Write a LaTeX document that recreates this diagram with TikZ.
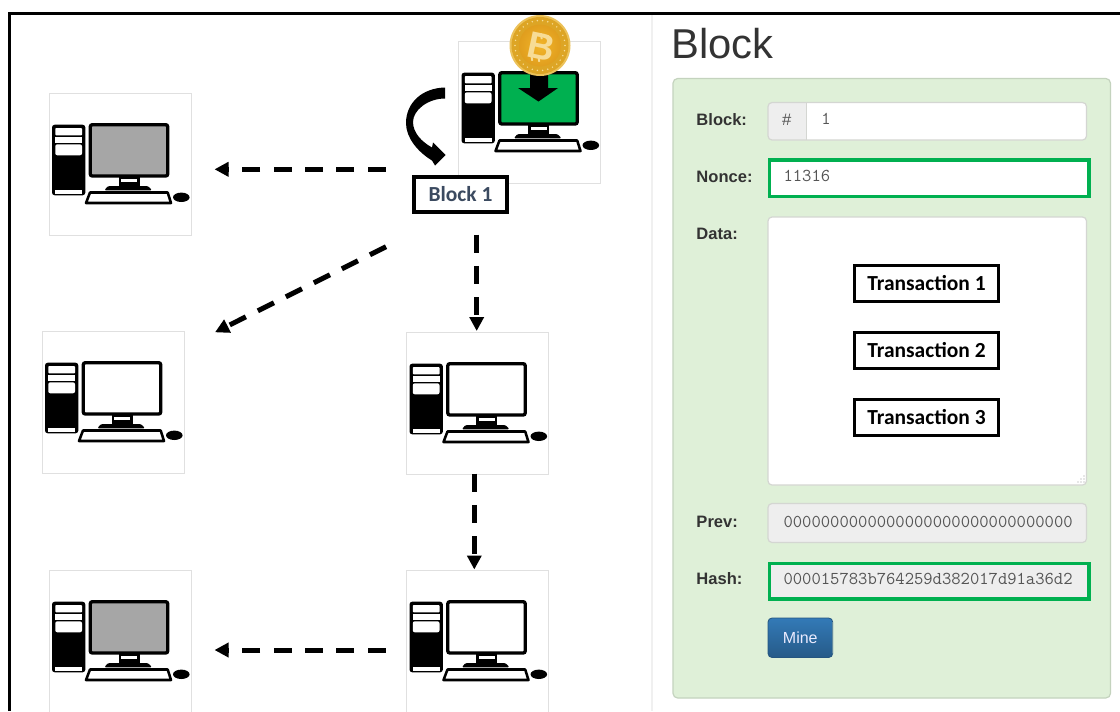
\documentclass[tikz,border=0pt]{standalone}
\usepackage{fontspec}
\setmainfont{Liberation Sans}
\newfontfamily\calib{Carlito}
\usetikzlibrary{arrows.meta,calc}
\definecolor{okgreen}{HTML}{00B050}
\definecolor{panelgreen}{HTML}{DFF0D8}
\definecolor{inputgrey}{HTML}{EEEEEE}
\definecolor{inputline}{HTML}{D4D6D2}
\definecolor{ink}{HTML}{333333}
\definecolor{slate}{HTML}{3B4A60}
\definecolor{monoink}{HTML}{555555}
\definecolor{screengrey}{HTML}{A6A6A6}
\definecolor{btntop}{HTML}{337AB7}
\definecolor{btnbot}{HTML}{265A88}
\definecolor{btnline}{HTML}{245580}
\definecolor{goldrim}{HTML}{DDA525}
\definecolor{goldedge}{HTML}{ECC25A}
\definecolor{golddisc}{HTML}{F2B52A}
\definecolor{golddark}{HTML}{E09E1E}
\definecolor{goldpale}{HTML}{F7DC96}
\tikzset{
  pcframe/.style={draw=black!12,line width=.6pt,fill=white,minimum width=106.5pt,minimum height=106.5pt,inner sep=0pt,outer sep=0pt},
  dasharrow/.style={line width=3.75pt,dash pattern=on 13.5pt off 10pt,-{Triangle[length=10.5pt,width=10.5pt]}},
  txbox/.style={draw=black,line width=2.8pt,fill=white,inner sep=0pt,outer sep=0pt,minimum width=108pt,minimum height=27pt,font=\calib\bfseries\fontsize{16.1}{18}\selectfont,text=black},
  blockbox/.style={draw=black,line width=2.6pt,fill=white,inner sep=0pt,outer sep=0pt,minimum width=70pt,minimum height=26pt,font=\calib\bfseries\fontsize{16.1}{18}\selectfont,text=slate},
  fieldlabel/.style={anchor=base west,inner sep=0pt,font=\bfseries\fontsize{12.4}{15}\selectfont,text=ink},
  monotext/.style={anchor=base west,inner sep=0pt,font=\ttfamily\fontsize{13.58}{15}\selectfont,text=monoink},
  field/.style={draw=inputline,line width=.9pt,rounded corners=3pt},
  greenfield/.style={draw=okgreen,line width=2.7pt},
}
% #1 name, #2 left, #3 top, #4 screen colour
\newcommand{\pcunit}[4]{%
  \node[pcframe] (#1) at (#2+71,#3+71) {};
  \begin{scope}[shift={(#2,#3)}]
    \fill[black,rounded corners=2pt] (3,31.7) rectangle (36.3,102.3);
    \fill[white,rounded corners=.6pt] (6.3,35) rectangle (33,42.3);
    \fill[white] (6.3,44) rectangle (33,49.7);
    \fill[white,rounded corners=1.5pt] (6.3,51.3) rectangle (33,62.3);
    \fill[white] (6.3,97.3) rectangle (33,100.7);
    \draw[black,line width=2.5pt,fill=#4,rounded corners=1.5pt] (41.3,31.7) rectangle (118.7,83);
    \fill[black] (69.7,83) rectangle (90.7,94);
    \fill[white] (72,85.7) rectangle (88,89);
    \fill[black,rounded corners=1pt] (55.3,97.3) -- (59,93) -- (99,93) -- (103,97.3) -- cycle;
    \draw[black,line width=1.9pt,fill=white,line join=round] (41,99.5) -- (118.7,99.5) -- (122,110) -- (37,110) -- cycle;
    \fill[black] (132.3,104.3) ellipse (8.3 and 4.7);
  \end{scope}}
\begin{document}
\begin{tikzpicture}[x=.75pt,y=-.75pt]
\useasboundingbox (0,0) rectangle (1120,711);
\clip (0,0) rectangle (1120,711);
\fill[white] (0,0) rectangle (1120,711);
% frame
\draw[black!6,line width=.8pt] (652,14) -- (652,711);
\draw[black,line width=2.3pt] (9.5,711) -- (9.5,13.5) -- (1120,13.5);
% computers
\pcunit{pcA}{49}{93}{screengrey}
\pcunit{pcB}{42}{331}{white}
\pcunit{pcC}{406.5}{332}{white}
\pcunit{pcD}{49}{570}{screengrey}
\pcunit{pcE}{406.5}{570}{white}
\pcunit{pcM}{458.5}{41}{okgreen}
% download arrow on the screen
\fill[black] (530,72) -- (548,72) -- (548,88) -- (558,88) -- (538.5,101.5) -- (518,88) -- (530,88) -- cycle;
% coin
\fill[goldedge] (540,45.5) circle (30.5);
\fill[goldrim] (540,45.5) circle (28.5);
\foreach \a in {0,12,...,348}{\fill[goldpale] ($(540,45.5)+(\a:25)$) circle (.8);}
\shade[inner color=golddisc,outer color=golddark] (540,45.5) circle (21);
\node[inner sep=0pt,rotate=-12,font=\bfseries\fontsize{28}{30}\selectfont,text=goldpale] (coinB) at (541,47) {B};
\draw[goldpale,line width=1.4pt] ($(coinB.north)+(-3,-1)$) -- ++(1,6) ($(coinB.north)+(4,1)$) -- ++(1,6) ($(coinB.south)+(-7,-5)$) -- ++(1,6) ($(coinB.south)+(0,-4)$) -- ++(1,6);
% curved arrow
\fill[black] (445,87.5) .. controls (422,88) and (406,103) .. (406,123) .. controls (406,138) and (418,152) .. (432,160.5) -- (435,165.5) -- (445.5,155) -- (433,142.5) -- (432,147.5) .. controls (422,142) and (413,133) .. (413,122) .. controls (413,110) and (428,98.5) .. (445,98.5) -- cycle;
% block 1
\node[blockbox] (block1) at (460.5,194.5) {Block 1};
% connector ends
\coordinate (s1) at (385.5,169.3);
\coordinate (e1) at (214.5,169.3);
\coordinate (s2) at (386,246.7);
\coordinate (e2) at (215,332.3);
\coordinate (s3) at (476.7,234.5);
\coordinate (e3) at (476.7,331);
\coordinate (s4) at (474.3,473.5);
\coordinate (e4) at (474.3,569.5);
\coordinate (s5) at (385.5,650);
\coordinate (e5) at (214.5,650);
\draw[dasharrow] (s1) -- (e1);
\draw[dasharrow] (s2) -- (e2);
\draw[dasharrow] (s3) -- (e3);
\draw[dasharrow] (s4) -- (e4);
\draw[dasharrow] (s5) -- (e5);
% right panel
\node[anchor=base west,inner sep=0pt,font=\fontsize{31.3}{36}\selectfont,text=ink] (title) at (671,58) {Block};
\fill[panelgreen,draw=black!12!panelgreen,line width=.9pt,rounded corners=3.5pt] (673,78.5) rectangle (1110.5,698);
\node[fieldlabel] (lblBlock) at (696.2,125) {Block:};
\node[fieldlabel] (lblNonce) at (696.2,182.5) {Nonce:};
\node[fieldlabel] (lblData) at (696.2,239.5) {Data:};
\node[fieldlabel] (lblPrev) at (696.2,527.5) {Prev:};
\node[fieldlabel] (lblHash) at (696.2,584.5) {Hash:};
% block field
\fill[white,rounded corners=3pt] (768,102.5) rectangle (1086.5,140);
\fill[inputgrey,rounded corners=3pt] (768,102.5) rectangle (806.7,140);
\fill[inputgrey] (790,102.5) rectangle (806.7,140);
\draw[field] (768,102.5) rectangle (1086.5,140);
\draw[inputline,line width=.7pt] (806.7,102.5) -- (806.7,140);
\node[anchor=base,inner sep=0pt,font=\fontsize{12.5}{14}\selectfont,text=monoink] (hash) at (786.7,125.5) {\#};
\node[monotext] (blockno) at (821,124.5) {1};
% nonce
\filldraw[fill=white,greenfield] (769.5,159.8) rectangle (1089,196.3);
\node[monotext] (nonce) at (783.3,181.5) {11316};
% data
\fill[white,draw=inputline,line width=.9pt,rounded corners=3pt] (768,217) rectangle (1086.5,485);
\foreach \i in {0,1,2}{\fill[black!40] (1084-\i*3,482) circle (.7);}
\foreach \i in {0,1}{\fill[black!40] (1084-\i*3,479) circle (.7);}
\fill[black!40] (1084,476) circle (.7);
\node[txbox] (tx1) at (926.5,283.5) {Transaction 1};
\node[txbox] (tx2) at (926.5,350.5) {Transaction 2};
\node[txbox] (tx3) at (926.5,417.5) {Transaction 3};
% prev
\fill[inputgrey,draw=inputline,line width=.9pt,rounded corners=3pt] (768,503.5) rectangle (1086.5,542.5);
\node[monotext] (prev) at (783.3,527) {0000000000000000000000000000000};
% hash
\filldraw[fill=inputgrey,greenfield] (769.5,563.5) rectangle (1089,599);
\node[monotext] (hashv) at (783.3,584) {000015783b764259d382017d91a36d2};
% mine
\shade[top color=btntop,bottom color=btnbot,rounded corners=3pt,draw=btnline,line width=.6pt] (768,618) rectangle (832.7,657.5);
\node[inner sep=0pt,font=\fontsize{12}{14}\selectfont,text=blue!8!white] (mine) at (800.3,637.7) {Mine};
\end{tikzpicture}
\end{document}
